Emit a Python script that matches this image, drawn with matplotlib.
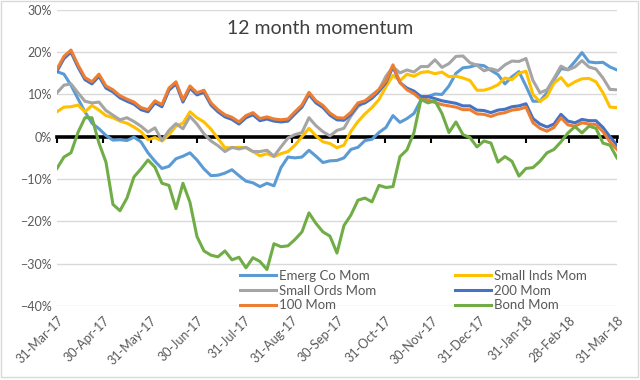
import matplotlib
matplotlib.use("Agg")
import matplotlib.pyplot as plt
import matplotlib.dates as mdates
from matplotlib.patches import Rectangle
from matplotlib.ticker import PercentFormatter
import pandas as pd

plt.rcParams["font.family"] = ["Lato", "DejaVu Sans"]

# sample dates across the year (values at each one)
dates = pd.date_range("2017-03-31", "2018-03-31", periods=81)
month_ends = pd.date_range("2017-03-31", "2018-03-31", freq="ME")

emerg_co = [15.4, 14.8, 12.2, 9.0, 5.9, 3.2, 1.9, 0.3, -0.8, -0.7, -0.9, -0.1, -1.2, -3.8, -5.8, -7.5,
            -7.0, -5.2, -4.6, -3.8, -5.5, -7.6, -9.2, -9.1, -8.6, -7.8, -9.2, -10.5, -10.9, -11.8, -11.0,
            -11.6, -7.3, -4.8, -5.0, -4.8, -3.2, -4.6, -6.1, -5.7, -5.6, -5.0, -3.0, -2.5, -0.9, -0.6,
            1.0, 2.2, 5.0, 3.4, 4.3, 5.5, 8.7, 9.5, 10.1, 10.0, 12.0, 15.0, 16.3, 16.5, 17.0, 16.8, 15.7,
            14.7, 12.5, 14.2, 15.4, 12.0, 8.4, 8.4, 10.4, 13.5, 16.1, 15.9, 17.8, 19.9, 17.7, 17.5, 17.6,
            16.5, 15.8]
small_inds = [5.9, 7.0, 7.1, 7.5, 5.9, 7.4, 6.3, 5.0, 4.5, 3.7, 3.2, 2.3, 1.2, -0.7, -0.2, -1.0, 0.5,
              2.5, 3.2, 5.9, 4.5, 3.5, 1.8, -0.4, -2.6, -2.6, -2.5, -2.6, -3.5, -4.5, -4.0, -4.7, -4.0,
              -3.5, -2.0, 0.0, 2.0, 0.2, -1.2, -1.6, -2.6, -2.0, 1.3, 3.6, 5.4, 6.9, 8.8, 11.8, 14.5,
              13.2, 14.8, 14.3, 15.2, 15.4, 14.9, 15.3, 14.2, 14.3, 13.9, 13.3, 11.0, 11.0, 11.5, 12.3,
              13.9, 13.5, 15.0, 15.5, 10.0, 8.3, 9.5, 12.7, 14.0, 12.0, 13.0, 13.7, 13.8, 13.0, 10.4,
              7.0, 6.9]
small_ords = [10.4, 12.2, 12.5, 10.4, 8.4, 8.0, 8.2, 6.2, 5.1, 4.0, 4.5, 3.6, 2.5, 1.1, 2.1, -0.9, 1.5,
              3.1, 1.9, 4.8, 3.0, 0.7, -1.0, -2.1, -3.5, -2.5, -2.9, -2.5, -3.5, -3.5, -3.2, -4.6, -2.4,
              -0.3, 0.5, 1.0, 4.5, 2.6, 1.2, 0.2, 1.5, 2.0, 4.9, 7.1, 8.4, 9.9, 11.1, 14.3, 16.5, 15.1,
              15.8, 15.3, 16.6, 16.6, 18.2, 16.4, 17.3, 19.0, 19.1, 17.5, 16.9, 15.6, 16.1, 15.6, 17.0,
              17.9, 17.8, 18.5, 13.3, 10.4, 11.1, 13.8, 16.7, 15.8, 16.5, 18.0, 16.5, 16.0, 13.9, 11.2,
              11.1]
mom_200 = [15.5, 18.5, 20.0, 16.5, 13.5, 12.5, 14.3, 11.5, 10.6, 9.2, 8.4, 7.7, 6.4, 5.9, 8.0, 7.1, 11.0,
           12.5, 8.2, 11.5, 9.9, 10.5, 7.5, 5.9, 4.7, 4.1, 3.0, 4.5, 5.2, 3.8, 4.2, 3.7, 3.5, 3.7, 5.4,
           7.0, 10.0, 8.0, 6.9, 5.1, 4.0, 3.9, 5.3, 7.5, 8.0, 9.1, 10.7, 12.8, 16.5, 12.8, 11.5, 10.8,
           9.5, 9.5, 9.0, 8.5, 8.2, 7.9, 7.3, 7.3, 6.3, 6.2, 5.7, 6.3, 6.5, 7.1, 7.3, 7.8, 4.3, 3.0, 2.3,
           3.0, 5.3, 3.7, 3.3, 4.1, 3.8, 3.8, 2.2, 0.0, -2.0]
mom_100 = [16.0, 19.0, 20.5, 17.0, 14.0, 13.0, 14.8, 12.0, 11.1, 9.7, 8.9, 8.2, 6.9, 6.4, 8.5, 7.6, 11.5,
           13.0, 8.7, 12.0, 10.4, 11.0, 8.0, 6.4, 5.2, 4.6, 3.5, 5.0, 5.7, 4.3, 4.7, 4.2, 4.0, 4.2, 5.9,
           7.5, 10.5, 8.5, 7.4, 5.6, 4.5, 4.4, 5.8, 8.0, 8.5, 9.6, 11.2, 13.2, 17.0, 12.8, 11.1, 10.2,
           8.8, 8.7, 8.1, 7.6, 7.3, 7.0, 6.4, 6.4, 5.4, 5.3, 4.8, 5.4, 5.7, 6.3, 6.5, 7.0, 3.3, 2.0, 1.3,
           2.2, 4.5, 2.8, 2.5, 3.3, 3.0, 2.9, 1.2, -1.2, -3.0]
bond = [-7.5, -4.8, -3.8, 1.0, 4.5, 4.5, -1.5, -6.0, -16.0, -17.5, -14.5, -9.5, -7.6, -5.5, -7.2, -11.0,
        -11.5, -17.0, -11.0, -15.5, -23.6, -27.0, -28.0, -28.4, -27.0, -29.1, -28.5, -31.0, -28.6, -29.5,
        -31.4, -25.3, -26.0, -25.8, -24.3, -22.5, -18.0, -20.5, -22.5, -23.5, -27.5, -21.0, -18.5, -15.0,
        -14.5, -15.4, -11.5, -12.0, -11.8, -4.7, -3.1, 1.0, 8.8, 8.0, 8.5, 5.5, 1.0, 3.5, 0.5, -0.2, -2.4,
        -1.0, -1.5, -6.0, -4.7, -5.8, -9.3, -7.5, -7.3, -5.8, -3.8, -3.0, -1.2, 0.9, 2.4, 0.9, 2.5, 2.0,
        -1.5, -2.0, -5.0]

fig = plt.figure(figsize=(6.4, 3.8), dpi=100)
ax = fig.add_axes([0.089, 0.195, 0.875, 0.779])

ax.set_ylim(-40, 30)
ax.set_yticks(range(-40, 31, 10))
ax.yaxis.set_major_formatter(PercentFormatter(decimals=0))
ax.set_xlim(pd.Timestamp("2017-03-31"), pd.Timestamp("2018-03-31"))
ax.grid(axis="y", color="#D9D9D9", linewidth=1)
ax.set_axisbelow(True)
for s in ax.spines.values():
    s.set_visible(False)

# horizontal axis line sits on 0% with small month ticks
ax.spines["bottom"].set_visible(True)
ax.spines["bottom"].set_position(("data", 0))
ax.spines["bottom"].set_color("black")
ax.spines["bottom"].set_linewidth(2.6)
ax.spines["bottom"].set_zorder(1.5)
ax.set_xticks(month_ends)
ax.tick_params(axis="x", length=4, width=1.5, color="black", labelbottom=False)
ax.tick_params(axis="y", length=0, labelsize=9, labelcolor="#595959")

lw = 2.2
l_emerg, = ax.plot(dates, emerg_co, color="#5B9BD5", lw=lw, label="Emerg Co Mom")
l_inds, = ax.plot(dates, small_inds, color="#FFC000", lw=lw, label="Small Inds Mom")
l_ords, = ax.plot(dates, small_ords, color="#A5A5A5", lw=lw, label="Small Ords Mom")
l_200, = ax.plot(dates, mom_200, color="#4472C4", lw=lw, label="200 Mom")
l_100, = ax.plot(dates, mom_100, color="#ED7D31", lw=lw, label="100 Mom")
l_bond, = ax.plot(dates, bond, color="#70AD47", lw=lw, label="Bond Mom")

# date labels at the bottom of the plot area
sec = ax.secondary_xaxis("bottom")
sec.set_xticks(month_ends)
sec.xaxis.set_major_formatter(mdates.DateFormatter("%d-%b-%y"))
sec.tick_params(length=0, pad=6, labelsize=9, labelcolor="#595959")
for s in sec.spines.values():
    s.set_visible(False)
for lab in sec.get_xticklabels():
    lab.set_rotation(45)
    lab.set_ha("right")
    lab.set_rotation_mode("anchor")

fig.text(0.5, 1 - 29 / 380, "12 month momentum", ha="center", va="center",
         fontsize=14, color="#404040")

leg_kw = dict(loc="upper left", frameon=False, fontsize=9.5, borderpad=0, borderaxespad=0,
              handlelength=2.7, handletextpad=0.25, labelspacing=0.2, labelcolor="#595959")
fig.legend([l_emerg, l_ords, l_100], ["Emerg Co Mom", "Small Ords Mom", "100 Mom"],
           bbox_to_anchor=(240 / 640, 1 - 270 / 380), **leg_kw)
fig.legend([l_inds, l_200, l_bond], ["Small Inds Mom", "200 Mom", "Bond Mom"],
           bbox_to_anchor=(455 / 640, 1 - 270 / 380), **leg_kw)

fig.patches.append(Rectangle((0.002, 0.008), 0.995, 0.989, transform=fig.transFigure,
                             fill=False, edgecolor="#D9D9D9", linewidth=1))

fig.savefig("out.png", dpi=100)
